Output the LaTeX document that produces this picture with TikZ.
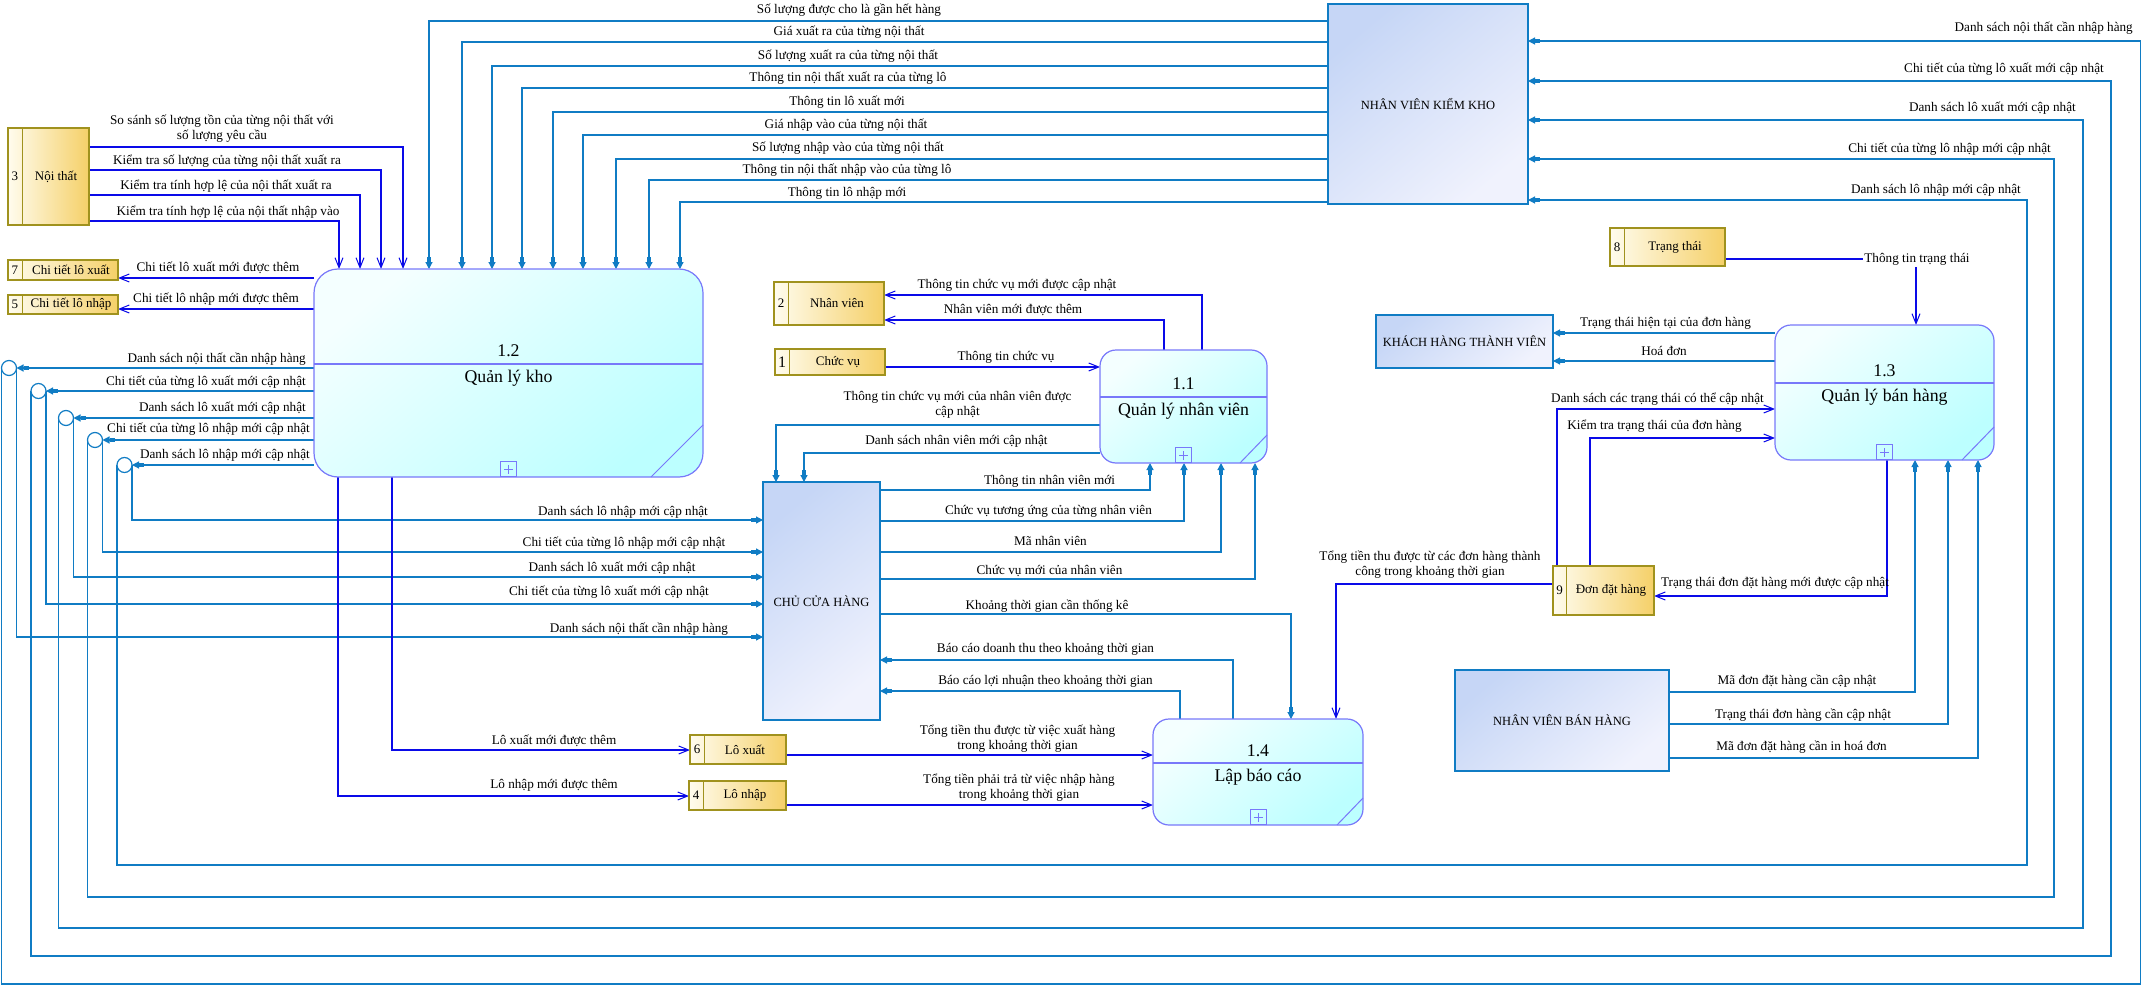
\documentclass[tikz,border=0pt]{standalone}
\usepackage{fontspec}
\setmainfont{Liberation Serif}
\usetikzlibrary{arrows.meta}
\definecolor{flowT}{RGB}{16,124,196}
\definecolor{flowB}{RGB}{10,10,232}
\definecolor{procB}{RGB}{120,120,250}
\definecolor{procT}{RGB}{244,255,255}
\definecolor{procD}{RGB}{188,255,255}
\definecolor{storeB}{RGB}{160,146,30}
\definecolor{storeL}{RGB}{255,252,238}
\definecolor{storeR}{RGB}{245,208,104}
\definecolor{entB}{RGB}{16,124,196}
\definecolor{entT}{RGB}{198,214,246}
\definecolor{entD}{RGB}{240,242,253}
\pgfdeclarelayer{paper}
\pgfdeclarelayer{wires}
\pgfsetlayers{paper,wires,main}
\tikzset{
  proc/.style={draw=procB, line width=1.2pt, rounded corners=16pt,
    top color=procT, bottom color=procD, shading angle=40, inner sep=0pt, outer sep=0pt},
  ptxt/.style={font=\fontsize{17.8}{20}\selectfont, inner sep=0pt},
  pline/.style={draw=procB, line width=1.2pt},
  plusbox/.style={draw=procB, line width=1pt, minimum width=16pt, minimum height=15pt, inner sep=0pt, anchor=south},
  ent/.style={draw=entB, line width=1.2pt, top color=entT, bottom color=entD, shading angle=40,
    inner sep=0pt, outer sep=0pt, align=center, font=\fontsize{12.5}{14}\selectfont},
  store/.style={draw=storeB, line width=1.2pt, left color=storeL, right color=storeR, inner sep=0pt, outer sep=0pt},
  sline/.style={draw=storeB, line width=1pt},
  stxt/.style={font=\fontsize{13}{15}\selectfont, inner sep=0pt},
  lbl/.style={font=\fontsize{13.2}{15}\selectfont, inner sep=0pt, align=center},
  tflow/.style={draw=flowT, line width=1.2pt,
    -{Rectangle[length=5pt,width=3.6pt,sep=0pt]Triangle[length=7pt,width=7pt]}},
  bflow/.style={draw=flowB, line width=1.2pt, -{Straight Barb[length=10pt,width=8pt,line width=1pt]}},
  junc/.style={circle, draw=flowT, line width=1.2pt, fill=white, minimum size=15pt, inner sep=0pt, outer sep=0pt},
}
\begin{document}
\begin{tikzpicture}[x=1pt,y=-1pt]
\useasboundingbox (0,0) rectangle (2142,987);
\begin{pgfonlayer}{paper}
\fill[white] (0,0) rectangle (2142,987);
\end{pgfonlayer}

% ---------- processes ----------
\node[proc, rounded corners=24pt, minimum width=389pt, minimum height=208pt] (kho) at (508.5,373) {};
\draw[pline] (kho.west |- 0,364) -- (kho.east |- 0,364);
\node[ptxt] (khoN) at (508.5,351) {1.2};
\node[ptxt] (khoT) at (508.5,378) {Quản lý kho};
\node[plusbox] (khoP) at (kho.south) {};
\draw[pline, line width=1pt] (kho.south -| 651,0) -- (kho.east |- 0,425);

\node[proc, minimum width=167pt, minimum height=113pt] (nv) at (1183.5,406.5) {};
\draw[pline] (nv.west |- 0,397) -- (nv.east |- 0,397);
\node[ptxt] (nvN) at (1183.5,384) {1.1};
\node[ptxt] (nvT) at (1183.5,411) {Quản lý nhân viên};
\node[plusbox] (nvP) at (nv.south) {};
\draw[pline, line width=1pt] (nv.south -| 1240,0) -- (nv.east |- 0,435);

\node[proc, minimum width=219pt, minimum height=135pt] (bh) at (1884.5,392.5) {};
\draw[pline] (bh.west |- 0,383) -- (bh.east |- 0,383);
\node[ptxt] (bhN) at (1884.5,371) {1.3};
\node[ptxt] (bhT) at (1884.5,397) {Quản lý bán hàng};
\node[plusbox] (bhP) at (bh.south) {};
\draw[pline, line width=1pt] (bh.south -| 1962,0) -- (bh.east |- 0,427);

\node[proc, minimum width=210pt, minimum height=106pt] (bc) at (1258,772) {};
\draw[pline] (bc.west |- 0,763) -- (bc.east |- 0,763);
\node[ptxt] (bcN) at (1258,751) {1.4};
\node[ptxt] (bcT) at (1258,777) {Lập báo cáo};
\node[plusbox] (bcP) at (bc.south) {};
\draw[pline, line width=1pt] (bc.south -| 1337,0) -- (bc.east |- 0,798);

\foreach \p in {khoP,nvP,bhP,bcP}{
  \draw[procB, line width=0.9pt] ([xshift=-4.5pt]\p.center) -- ([xshift=4.5pt]\p.center)
    ([yshift=-4.5pt]\p.center) -- ([yshift=4.5pt]\p.center);
}

% ---------- external entities ----------
\node[ent, minimum width=200pt, minimum height=200pt] (kk) at (1428,104) {NHÂN VIÊN KIỂM KHO};
\node[ent, minimum width=117pt, minimum height=238pt] (chu) at (821.5,601) {CHỦ CỬA HÀNG};
\node[ent, minimum width=177pt, minimum height=53pt] (kh) at (1464.5,341.5) {KHÁCH HÀNG THÀNH VIÊN};
\node[ent, minimum width=214pt, minimum height=101pt] (bhnv) at (1562,720.5) {NHÂN VIÊN BÁN HÀNG};

% ---------- data stores ----------
\node[store, minimum width=81pt, minimum height=97pt] (s3) at (48.5,176.5) {};
\draw[sline] (s3.north -| 22,0) -- (s3.south -| 22,0);
\node[stxt] (s3n) at (15,176.5) {3};
\node[stxt] (s3t) at (56,176.5) {Nội thất};

\node[store, minimum width=110pt, minimum height=20pt] (s7) at (63,270) {};
\draw[sline] (s7.north -| 22,0) -- (s7.south -| 22,0);
\node[stxt] (s7n) at (15,270) {7};
\node[stxt] (s7t) at (71,270) {Chi tiết lô xuất};

\node[store, minimum width=110pt, minimum height=19pt] (s5) at (63,304.5) {};
\draw[sline] (s5.north -| 22,0) -- (s5.south -| 22,0);
\node[stxt] (s5n) at (15,304.5) {5};
\node[stxt] (s5t) at (71,304.5) {Chi tiết lô nhập};

\node[store, minimum width=110pt, minimum height=43pt] (s2) at (829,303.5) {};
\draw[sline] (s2.north -| 788,0) -- (s2.south -| 788,0);
\node[stxt] (s2n) at (781,303.5) {2};
\node[stxt] (s2t) at (837,303.5) {Nhân viên};

\node[store, minimum width=110pt, minimum height=26pt] (s1) at (830,362) {};
\draw[sline] (s1.north -| 789,0) -- (s1.south -| 789,0);
\node[stxt, font=\fontsize{16}{18}\selectfont] (s1n) at (782,362) {1};
\node[stxt] (s1t) at (838,362) {Chức vụ};

\node[store, minimum width=115pt, minimum height=38pt] (s8) at (1667.5,247) {};
\draw[sline] (s8.north -| 1624,0) -- (s8.south -| 1624,0);
\node[stxt] (s8n) at (1617,247) {8};
\node[stxt] (s8t) at (1675,247) {Trạng thái};

\node[store, minimum width=101pt, minimum height=49pt] (s9) at (1603.5,590.5) {};
\draw[sline] (s9.north -| 1566,0) -- (s9.south -| 1566,0);
\node[stxt] (s9n) at (1559.5,590.5) {9};
\node[stxt] (s9t) at (1611,590.5) {Đơn đặt hàng};

\node[store, minimum width=96pt, minimum height=29pt] (s6) at (738,749.5) {};
\draw[sline] (s6.north -| 704,0) -- (s6.south -| 704,0);
\node[stxt] (s6n) at (697,749.5) {6};
\node[stxt] (s6t) at (745,749.5) {Lô xuất};

\node[store, minimum width=97pt, minimum height=29pt] (s4) at (737.5,795.5) {};
\draw[sline] (s4.north -| 703,0) -- (s4.south -| 703,0);
\node[stxt] (s4n) at (696,795.5) {4};
\node[stxt] (s4t) at (745,795.5) {Lô nhập};

% ---------- split junctions ----------
\node[junc] (c1) at (9,368) {};
\node[junc] (c2) at (38.5,391) {};
\node[junc] (c3) at (66,418) {};
\node[junc] (c4) at (95,440) {};
\node[junc] (c5) at (124.5,465) {};

% ---------- flows ----------
\begin{pgfonlayer}{wires}
% Nội thất -> 1.2
\draw[bflow] (s3.east |- 0,147) -| (kho.north -| 403,0);
\draw[bflow] (s3.east |- 0,170) -| (kho.north -| 381,0);
\draw[bflow] (s3.east |- 0,195) -| (kho.north -| 360,0);
\draw[bflow] (s3.east |- 0,221) -| (kho.north -| 339,0);
% NV kiểm kho -> 1.2
\foreach \yy/\xx in {21/429, 42/462, 66/492, 88/522, 112/553, 135/583, 159/616, 180/649, 202/680}
  \draw[tflow] (kk.west |- 0,\yy) -| (kho.north -| \xx,0);
% 1.2 -> junctions
\draw[tflow] (kho.west |- 0,368) -- (c1.east);
\draw[tflow] (kho.west |- 0,391) -- (c2.east);
\draw[tflow] (kho.west |- 0,418) -- (c3.east);
\draw[tflow] (kho.west |- 0,440) -- (c4.east);
\draw[tflow] (kho.west |- 0,465) -- (c5.east);
% junctions -> chủ cửa hàng
\draw[tflow] (c1.east) |- (chu.west |- 0,637);
\draw[tflow] (c2.east) |- (chu.west |- 0,604);
\draw[tflow] (c3.east) |- (chu.west |- 0,577);
\draw[tflow] (c4.east) |- (chu.west |- 0,552);
\draw[tflow] (c5.east) |- (chu.west |- 0,520);
% junctions -> NV kiểm kho (around the page)
\draw[tflow] (c1.west) |- (2140.5,984) |- (kk.east |- 0,41);
\draw[tflow] (c2.west) |- (2111,956) |- (kk.east |- 0,81);
\draw[tflow] (c3.west) |- (2083,928) |- (kk.east |- 0,120);
\draw[tflow] (c4.west) |- (2054,897) |- (kk.east |- 0,159);
\draw[tflow] (c5.west) |- (2027,865) |- (kk.east |- 0,200);
% 1.2 -> chi tiết lô
\draw[bflow] (kho.west |- 0,278) -- (s7.east |- 0,278);
\draw[bflow] (kho.west |- 0,309) -- (s5.east |- 0,309);
% 1.2 -> lô xuất / lô nhập
\draw[bflow] (kho.south -| 392,0) |- (s6.west |- 0,750);
\draw[bflow] (kho.south -| 338,0) |- (s4.west |- 0,796);
% lô -> 1.4
\draw[bflow] (s6.east |- 0,755) -- (bc.west |- 0,755);
\draw[bflow] (s4.east |- 0,805) -- (bc.west |- 0,805);
% 1.1 <-> stores
\draw[bflow] (nv.north -| 1202,0) |- (s2.east |- 0,295);
\draw[bflow] (nv.north -| 1164,0) |- (s2.east |- 0,320);
\draw[bflow] (s1.east |- 0,367) -- (nv.west |- 0,367);
% 1.1 -> chủ
\draw[tflow] (nv.west |- 0,425) -| (chu.north -| 776,0);
\draw[tflow] (nv.west |- 0,453) -| (chu.north -| 804,0);
% chủ -> 1.1
\draw[tflow] (chu.east |- 0,490) -| (nv.south -| 1150,0);
\draw[tflow] (chu.east |- 0,521) -| (nv.south -| 1184,0);
\draw[tflow] (chu.east |- 0,552) -| (nv.south -| 1221,0);
\draw[tflow] (chu.east |- 0,579) -| (nv.south -| 1255,0);
% chủ <-> 1.4
\draw[tflow] (chu.east |- 0,614) -| (bc.north -| 1291,0);
\draw[tflow] (bc.north -| 1233,0) |- (chu.east |- 0,660);
\draw[tflow] (bc.north -| 1180,0) |- (chu.east |- 0,691);
% đơn đặt hàng -> 1.4
\draw[bflow] (s9.west |- 0,584) -| (bc.north -| 1336,0);
% trạng thái -> 1.3
\draw[bflow] (s8.east |- 0,259) -| (bh.north -| 1916,0);
% 1.3 -> khách hàng
\draw[tflow] (bh.west |- 0,333) -- (kh.east |- 0,333);
\draw[tflow] (bh.west |- 0,361) -- (kh.east |- 0,361);
% đơn đặt hàng <-> 1.3
\draw[bflow] (s9.north -| 1557,0) |- (bh.west |- 0,409);
\draw[bflow] (s9.north -| 1590,0) |- (bh.west |- 0,438);
\draw[bflow] (bh.south -| 1887,0) |- (s9.east |- 0,596);
% NV bán hàng -> 1.3
\draw[tflow] (bhnv.east |- 0,692) -| (bh.south -| 1915,0);
\draw[tflow] (bhnv.east |- 0,724) -| (bh.south -| 1948,0);
\draw[tflow] (bhnv.east |- 0,758) -| (bh.south -| 1978,0);
\end{pgfonlayer}

% ---------- flow labels ----------
\node[lbl] (a1) at (222,128.5) {So sánh số lượng tồn của từng nội thất với\\số lượng yêu cầu};
\node[lbl] (a2) at (227,161) {Kiểm tra số lượng của từng nội thất xuất ra};
\node[lbl] (a3) at (226,186) {Kiểm tra tính hợp lệ của nội thất xuất ra};
\node[lbl] (a4) at (228,212) {Kiểm tra tính hợp lệ của nội thất nhập vào};

\node[lbl] (k1) at (849,10) {Số lượng được cho là gần hết hàng};
\node[lbl] (k2) at (849,32) {Giá xuất ra của từng nội thất};
\node[lbl] (k3) at (848,56) {Số lượng xuất ra của từng nội thất};
\node[lbl] (k4) at (848,78) {Thông tin nội thất xuất ra của từng lô};
\node[lbl] (k5) at (847,102) {Thông tin lô xuất mới};
\node[lbl] (k6) at (846,125) {Giá nhập vào của từng nội thất};
\node[lbl] (k7) at (848,148) {Số lượng nhập vào của từng nội thất};
\node[lbl] (k8) at (847,170) {Thông tin nội thất nhập vào của từng lô};
\node[lbl] (k9) at (847,193) {Thông tin lô nhập mới};

\node[lbl, anchor=east] (r1) at (2133,28) {Danh sách nội thất cần nhập hàng};
\node[lbl, anchor=east] (r2) at (2104,69) {Chi tiết của từng lô xuất mới cập nhật};
\node[lbl, anchor=east] (r3) at (2076,108) {Danh sách lô xuất mới cập nhật};
\node[lbl, anchor=east] (r4) at (2051,149) {Chi tiết của từng lô nhập mới cập nhật};
\node[lbl, anchor=east] (r5) at (2021,190) {Danh sách lô nhập mới cập nhật};

\node[lbl, anchor=east] (w1) at (306,359) {Danh sách nội thất cần nhập hàng};
\node[lbl, anchor=east] (w2) at (306,382) {Chi tiết của từng lô xuất mới cập nhật};
\node[lbl, anchor=east] (w3) at (306,408) {Danh sách lô xuất mới cập nhật};
\node[lbl, anchor=east] (w4) at (310,429) {Chi tiết của từng lô nhập mới cập nhật};
\node[lbl, anchor=east] (w5) at (310,455) {Danh sách lô nhập mới cập nhật};

\node[lbl] (h1) at (623,512) {Danh sách lô nhập mới cập nhật};
\node[lbl] (h2) at (624,543) {Chi tiết của từng lô nhập mới cập nhật};
\node[lbl] (h3) at (612,568) {Danh sách lô xuất mới cập nhật};
\node[lbl] (h4) at (609,592) {Chi tiết của từng lô xuất mới cập nhật};
\node[lbl] (h5) at (639,629) {Danh sách nội thất cần nhập hàng};

\node[lbl] (d1) at (218,268) {Chi tiết lô xuất mới được thêm};
\node[lbl] (d2) at (216,299) {Chi tiết lô nhập mới được thêm};
\node[lbl] (d3) at (554,741) {Lô xuất mới được thêm};
\node[lbl] (d4) at (554,785) {Lô nhập mới được thêm};
\node[lbl] (d5) at (1017.5,738.5) {Tổng tiền thu được từ việc xuất hàng\\trong khoảng thời gian};
\node[lbl] (d6) at (1019,787.5) {Tổng tiền phải trả từ việc nhập hàng\\trong khoảng thời gian};

\node[lbl] (n1) at (1017,285) {Thông tin chức vụ mới được cập nhật};
\node[lbl] (n2) at (1013,310) {Nhân viên mới được thêm};
\node[lbl] (n3) at (1006,357) {Thông tin chức vụ};
\node[lbl] (n4) at (957.5,404.5) {Thông tin chức vụ mới của nhân viên được\\cập nhật};
\node[lbl] (n5) at (956.5,441) {Danh sách nhân viên mới cập nhật};
\node[lbl] (n6) at (1049.5,481) {Thông tin nhân viên mới};
\node[lbl] (n7) at (1048.5,511) {Chức vụ tương ứng của từng nhân viên};
\node[lbl] (n8) at (1050.5,541) {Mã nhân viên};
\node[lbl] (n9) at (1049.5,571) {Chức vụ mới của nhân viên};
\node[lbl] (b1) at (1047,606) {Khoảng thời gian cần thống kê};
\node[lbl] (b2) at (1045.5,649) {Báo cáo doanh thu theo khoảng thời gian};
\node[lbl] (b3) at (1045.5,681) {Báo cáo lợi nhuận theo khoảng thời gian};

\node[lbl] (o1) at (1430,564.5) {Tổng tiền thu được từ các đơn hàng thành\\công trong khoảng thời gian};
\node[lbl, fill=white, inner sep=1.5pt] (o2) at (1917,259) {Thông tin trạng thái};
\node[lbl] (o3) at (1665.5,323) {Trạng thái hiện tại của đơn hàng};
\node[lbl] (o4) at (1664,351) {Hoá đơn};
\node[lbl] (o5) at (1657.5,399) {Danh sách các trạng thái có thể cập nhật};
\node[lbl] (o6) at (1654.5,426) {Kiểm tra trạng thái của đơn hàng};
\node[lbl] (o7) at (1775,583) {Trạng thái đơn đặt hàng mới được cập nhật};
\node[lbl] (o8) at (1797,681) {Mã đơn đặt hàng cần cập nhật};
\node[lbl] (o9) at (1803,715) {Trạng thái đơn hàng cần cập nhật};
\node[lbl] (o10) at (1801.5,747) {Mã đơn đặt hàng cần in hoá đơn};
\end{tikzpicture}
\end{document}
